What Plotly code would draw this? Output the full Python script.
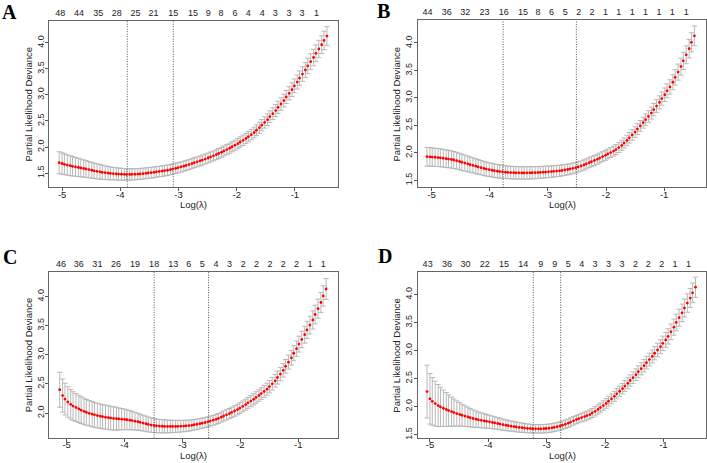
import plotly.graph_objects as go

# ---------------- data ----------------
log_lambda_A = [-5.05,-5.00,-4.96,-4.91,-4.86,-4.82,-4.77,-4.72,-4.68,-4.63,
    -4.59,-4.54,-4.49,-4.45,-4.40,-4.35,-4.31,-4.26,-4.21,-4.17,
    -4.12,-4.07,-4.03,-3.98,-3.93,-3.89,-3.84,-3.80,-3.75,-3.70,
    -3.66,-3.61,-3.56,-3.52,-3.47,-3.42,-3.38,-3.33,-3.28,-3.24,
    -3.19,-3.14,-3.10,-3.05,-3.01,-2.96,-2.91,-2.87,-2.82,-2.77,
    -2.73,-2.68,-2.63,-2.59,-2.54,-2.49,-2.45,-2.40,-2.35,-2.31,
    -2.26,-2.22,-2.17,-2.12,-2.08,-2.03,-1.98,-1.94,-1.89,-1.84,
    -1.80,-1.75,-1.70,-1.66,-1.61,-1.57,-1.52,-1.47,-1.43,-1.38,
    -1.33,-1.29,-1.24,-1.19,-1.15,-1.10,-1.05,-1.01,-0.96,-0.92,
    -0.87,-0.82,-0.78,-0.73,-0.68,-0.64,-0.59,-0.54,-0.50,-0.45]
mean_A = [1.700,1.684,1.669,1.655,1.642,1.630,1.619,1.608,1.598,1.589,
    1.580,1.567,1.555,1.544,1.534,1.525,1.516,1.508,1.501,1.495,
    1.490,1.485,1.481,1.478,1.476,1.475,1.475,1.476,1.478,1.481,
    1.485,1.490,1.496,1.502,1.509,1.516,1.523,1.531,1.539,1.547,
    1.555,1.566,1.578,1.591,1.604,1.618,1.633,1.648,1.664,1.681,
    1.700,1.716,1.733,1.751,1.770,1.790,1.810,1.831,1.853,1.876,
    1.900,1.925,1.951,1.978,2.006,2.035,2.065,2.097,2.130,2.164,
    2.200,2.238,2.279,2.323,2.370,2.420,2.472,2.526,2.582,2.640,
    2.700,2.762,2.826,2.892,2.960,3.030,3.101,3.173,3.247,3.323,
    3.400,3.478,3.557,3.637,3.718,3.799,3.881,3.963,4.046,4.130]
sd_A = [0.210,0.205,0.200,0.195,0.190,0.185,0.180,0.175,0.170,0.165,
    0.160,0.156,0.152,0.148,0.144,0.140,0.136,0.132,0.128,0.124,
    0.120,0.118,0.116,0.114,0.112,0.110,0.109,0.108,0.107,0.106,
    0.105,0.105,0.104,0.104,0.103,0.103,0.102,0.101,0.101,0.100,
    0.100,0.099,0.099,0.098,0.098,0.097,0.097,0.096,0.096,0.095,
    0.095,0.095,0.095,0.095,0.095,0.095,0.095,0.095,0.095,0.095,
    0.095,0.095,0.096,0.096,0.097,0.097,0.098,0.098,0.099,0.099,
    0.100,0.101,0.103,0.104,0.106,0.107,0.109,0.110,0.112,0.113,
    0.115,0.117,0.120,0.122,0.125,0.127,0.130,0.132,0.135,0.137,
    0.140,0.144,0.149,0.153,0.158,0.162,0.167,0.171,0.176,0.180]
nz_labels_A = ["48","44","35","28","25","21","15","15","9","8","6","4","4","3","3","3","1"]
nz_at_A = [-5.03,-4.71,-4.38,-4.06,-3.74,-3.43,-3.09,-2.75,-2.49,-2.27,-2.03,-1.80,-1.56,-1.34,-1.10,-0.88,-0.63]
lambda_lines_A = [-3.88, -3.09]

log_lambda_B = [-5.08,-5.03,-4.99,-4.94,-4.89,-4.85,-4.80,-4.75,-4.71,-4.66,
    -4.62,-4.57,-4.52,-4.48,-4.43,-4.38,-4.34,-4.29,-4.24,-4.20,
    -4.15,-4.10,-4.06,-4.01,-3.96,-3.92,-3.87,-3.83,-3.78,-3.73,
    -3.69,-3.64,-3.59,-3.55,-3.50,-3.45,-3.41,-3.36,-3.31,-3.27,
    -3.22,-3.17,-3.13,-3.08,-3.04,-2.99,-2.94,-2.90,-2.85,-2.80,
    -2.76,-2.71,-2.66,-2.62,-2.57,-2.52,-2.48,-2.43,-2.38,-2.34,
    -2.29,-2.25,-2.20,-2.15,-2.11,-2.06,-2.01,-1.97,-1.92,-1.87,
    -1.83,-1.78,-1.73,-1.69,-1.64,-1.60,-1.55,-1.50,-1.46,-1.41,
    -1.36,-1.32,-1.27,-1.22,-1.18,-1.13,-1.08,-1.04,-0.99,-0.95,
    -0.90,-0.85,-0.81,-0.76,-0.71,-0.67,-0.62,-0.57,-0.53,-0.48]
mean_B = [1.930,1.927,1.924,1.920,1.915,1.910,1.903,1.895,1.887,1.879,
    1.870,1.857,1.843,1.829,1.815,1.800,1.786,1.772,1.758,1.744,
    1.730,1.717,1.705,1.694,1.684,1.675,1.667,1.660,1.654,1.649,
    1.645,1.642,1.639,1.637,1.636,1.635,1.635,1.636,1.637,1.638,
    1.640,1.642,1.645,1.648,1.651,1.655,1.659,1.664,1.669,1.674,
    1.680,1.688,1.697,1.707,1.718,1.730,1.745,1.761,1.779,1.799,
    1.820,1.840,1.861,1.883,1.906,1.930,1.955,1.981,2.006,2.033,
    2.060,2.096,2.136,2.179,2.225,2.274,2.325,2.378,2.433,2.490,
    2.550,2.605,2.663,2.724,2.787,2.852,2.919,2.988,3.058,3.129,
    3.200,3.285,3.375,3.470,3.570,3.675,3.785,3.897,4.012,4.130]
sd_B = [0.170,0.169,0.167,0.166,0.164,0.163,0.161,0.160,0.158,0.157,
    0.155,0.153,0.150,0.148,0.145,0.143,0.140,0.138,0.135,0.133,
    0.130,0.128,0.127,0.125,0.124,0.122,0.121,0.119,0.118,0.116,
    0.115,0.115,0.114,0.114,0.113,0.113,0.112,0.112,0.111,0.111,
    0.110,0.109,0.108,0.107,0.106,0.105,0.104,0.103,0.102,0.101,
    0.100,0.099,0.098,0.097,0.096,0.095,0.094,0.093,0.092,0.091,
    0.090,0.090,0.090,0.090,0.090,0.090,0.090,0.090,0.090,0.090,
    0.090,0.091,0.092,0.093,0.094,0.095,0.096,0.097,0.098,0.099,
    0.100,0.103,0.106,0.109,0.112,0.115,0.118,0.121,0.124,0.127,
    0.130,0.135,0.141,0.146,0.152,0.157,0.163,0.168,0.174,0.180]
nz_labels_B = ["44","36","32","23","16","15","8","6","5","2","2","1","1","1","1","1","1","1"]
nz_at_B = [-5.07,-4.74,-4.42,-4.09,-3.76,-3.43,-3.17,-2.94,-2.70,-2.47,-2.24,-2.01,-1.78,-1.55,-1.32,-1.09,-0.86,-0.62]
lambda_lines_B = [-3.77, -2.51]

log_lambda_C = [-5.12,-5.07,-5.03,-4.98,-4.93,-4.89,-4.84,-4.79,-4.75,-4.70,
    -4.66,-4.61,-4.56,-4.52,-4.47,-4.42,-4.38,-4.33,-4.28,-4.24,
    -4.19,-4.14,-4.10,-4.05,-4.00,-3.96,-3.91,-3.87,-3.82,-3.77,
    -3.73,-3.68,-3.63,-3.59,-3.54,-3.49,-3.45,-3.40,-3.35,-3.31,
    -3.26,-3.21,-3.17,-3.12,-3.08,-3.03,-2.98,-2.94,-2.89,-2.84,
    -2.80,-2.75,-2.70,-2.66,-2.61,-2.56,-2.52,-2.47,-2.42,-2.38,
    -2.33,-2.29,-2.24,-2.19,-2.15,-2.10,-2.05,-2.01,-1.96,-1.91,
    -1.87,-1.82,-1.77,-1.73,-1.68,-1.64,-1.59,-1.54,-1.50,-1.45,
    -1.40,-1.36,-1.31,-1.26,-1.22,-1.17,-1.12,-1.08,-1.03,-0.99,
    -0.94,-0.89,-0.85,-0.80,-0.75,-0.71,-0.66,-0.61,-0.57,-0.52]
mean_C = [2.400,2.300,2.240,2.190,2.150,2.120,2.095,2.072,2.050,2.030,
    2.012,1.996,1.982,1.969,1.957,1.946,1.937,1.929,1.921,1.914,
    1.908,1.903,1.899,1.895,1.891,1.885,1.878,1.870,1.861,1.851,
    1.840,1.828,1.816,1.804,1.794,1.786,1.780,1.776,1.773,1.771,
    1.770,1.770,1.770,1.771,1.772,1.774,1.777,1.780,1.784,1.789,
    1.800,1.808,1.817,1.827,1.838,1.850,1.863,1.877,1.892,1.908,
    1.930,1.949,1.969,1.990,2.012,2.035,2.060,2.086,2.114,2.144,
    2.175,2.205,2.236,2.268,2.301,2.335,2.370,2.410,2.454,2.502,
    2.554,2.610,2.670,2.734,2.802,2.874,2.949,3.027,3.105,3.184,
    3.264,3.345,3.427,3.510,3.598,3.692,3.792,3.898,4.010,4.130]
sd_C = [0.300,0.285,0.272,0.262,0.253,0.246,0.240,0.235,0.230,0.225,
    0.221,0.218,0.216,0.214,0.212,0.210,0.208,0.206,0.204,0.202,
    0.200,0.195,0.189,0.183,0.176,0.170,0.164,0.158,0.152,0.146,
    0.140,0.136,0.132,0.128,0.124,0.120,0.118,0.116,0.114,0.112,
    0.110,0.108,0.106,0.104,0.102,0.100,0.098,0.096,0.094,0.092,
    0.090,0.089,0.088,0.087,0.086,0.085,0.085,0.085,0.085,0.085,
    0.085,0.086,0.087,0.088,0.089,0.090,0.091,0.092,0.093,0.094,
    0.095,0.096,0.097,0.098,0.099,0.100,0.102,0.104,0.106,0.108,
    0.110,0.112,0.114,0.116,0.118,0.120,0.124,0.128,0.132,0.136,
    0.140,0.144,0.148,0.152,0.156,0.160,0.165,0.170,0.175,0.180]
nz_labels_C = ["46","36","31","26","19","18","13","6","5","4","3","2","2","2","2","2","1","1"]
nz_at_C = [-5.10,-4.79,-4.47,-4.15,-3.82,-3.49,-3.16,-2.89,-2.66,-2.42,-2.19,-1.95,-1.72,-1.49,-1.26,-1.03,-0.80,-0.57]
lambda_lines_C = [-3.49, -2.55]

log_lambda_D = [-5.05,-5.00,-4.96,-4.91,-4.86,-4.82,-4.77,-4.72,-4.68,-4.63,
    -4.59,-4.54,-4.49,-4.45,-4.40,-4.35,-4.31,-4.26,-4.21,-4.17,
    -4.12,-4.07,-4.03,-3.98,-3.93,-3.89,-3.84,-3.80,-3.75,-3.70,
    -3.66,-3.61,-3.56,-3.52,-3.47,-3.42,-3.38,-3.33,-3.28,-3.24,
    -3.19,-3.14,-3.10,-3.05,-3.01,-2.96,-2.91,-2.87,-2.82,-2.77,
    -2.73,-2.68,-2.63,-2.59,-2.54,-2.49,-2.45,-2.40,-2.35,-2.31,
    -2.26,-2.22,-2.17,-2.12,-2.08,-2.03,-1.98,-1.94,-1.89,-1.84,
    -1.80,-1.75,-1.70,-1.66,-1.61,-1.57,-1.52,-1.47,-1.43,-1.38,
    -1.33,-1.29,-1.24,-1.19,-1.15,-1.10,-1.05,-1.01,-0.96,-0.92,
    -0.87,-0.82,-0.78,-0.73,-0.68,-0.64,-0.59,-0.54,-0.50,-0.45]
mean_D = [2.270,2.140,2.095,2.055,2.020,1.995,1.972,1.950,1.930,1.912,
    1.895,1.878,1.862,1.847,1.833,1.818,1.803,1.789,1.777,1.766,
    1.756,1.747,1.739,1.730,1.720,1.710,1.700,1.690,1.680,1.670,
    1.661,1.653,1.645,1.638,1.631,1.625,1.619,1.614,1.610,1.607,
    1.605,1.605,1.606,1.608,1.611,1.616,1.623,1.632,1.643,1.656,
    1.671,1.688,1.706,1.726,1.748,1.770,1.788,1.806,1.824,1.842,
    1.860,1.888,1.918,1.950,1.984,2.020,2.058,2.098,2.140,2.184,
    2.230,2.275,2.321,2.368,2.417,2.467,2.518,2.570,2.623,2.677,
    2.731,2.785,2.840,2.896,2.953,3.011,3.070,3.130,3.191,3.253,
    3.335,3.418,3.502,3.587,3.673,3.760,3.848,3.937,4.030,4.130]
sd_D = [0.470,0.450,0.425,0.400,0.375,0.350,0.325,0.302,0.280,0.260,
    0.242,0.225,0.210,0.196,0.184,0.173,0.163,0.154,0.146,0.139,
    0.133,0.127,0.122,0.117,0.113,0.109,0.105,0.102,0.099,0.096,
    0.093,0.091,0.089,0.087,0.085,0.083,0.081,0.079,0.077,0.076,
    0.075,0.075,0.075,0.075,0.075,0.075,0.075,0.075,0.075,0.075,
    0.075,0.075,0.075,0.075,0.075,0.075,0.076,0.077,0.078,0.079,
    0.080,0.081,0.082,0.083,0.084,0.085,0.086,0.087,0.088,0.089,
    0.090,0.092,0.094,0.096,0.098,0.100,0.102,0.104,0.106,0.108,
    0.110,0.112,0.114,0.116,0.118,0.120,0.124,0.128,0.132,0.136,
    0.140,0.144,0.148,0.152,0.156,0.160,0.165,0.170,0.175,0.180]
nz_labels_D = ["43","36","30","22","15","14","9","9","5","4","3","3","3","2","2","2","1","1"]
nz_at_D = [-5.04,-4.71,-4.39,-4.06,-3.73,-3.40,-3.10,-2.86,-2.63,-2.40,-2.17,-1.94,-1.71,-1.48,-1.26,-1.03,-0.80,-0.57]
lambda_lines_D = [-3.23, -2.76]

panel_letters = ["A", "B", "C", "D"]
x_ticks = [-5, -4, -3, -2, -1]
x_tick_text = ["-5", "-4", "-3", "-2", "-1"]
y_title = "Partial Likelihood Deviance"
x_title = "Log(\u03bb)"

# ---------------- layout (pixel geometry) ----------------
W, H = 707, 463
panels = [
    dict(x=log_lambda_A, m=mean_A, s=sd_A, nzl=nz_labels_A, nza=nz_at_A, vl=lambda_lines_A,
         box=(49.3, 338.0, 21.0, 188.0), xr=[-5.22, -0.26], yr=[1.23, 4.42],
         yt=[1.5, 2.0, 2.5, 3.0, 3.5, 4.0], letter=(9.5, 12)),
    dict(x=log_lambda_B, m=mean_B, s=sd_B, nzl=nz_labels_B, nza=nz_at_B, vl=lambda_lines_B,
         box=(417.7, 706.0, 20.0, 188.3), xr=[-5.24, -0.28], yr=[1.37, 4.42],
         yt=[1.5, 2.0, 2.5, 3.0, 3.5, 4.0], letter=(383.5, 11.5)),
    dict(x=log_lambda_C, m=mean_C, s=sd_C, nzl=nz_labels_C, nza=nz_at_C, vl=lambda_lines_C,
         box=(49.3, 337.7, 272.7, 440.0), xr=[-5.30, -0.32], yr=[1.57, 4.43],
         yt=[2.0, 2.5, 3.0, 3.5, 4.0], letter=(9.5, 258)),
    dict(x=log_lambda_D, m=mean_D, s=sd_D, nzl=nz_labels_D, nza=nz_at_D, vl=lambda_lines_D,
         box=(417.7, 706.0, 272.7, 440.0), xr=[-5.21, -0.27], yr=[1.44, 4.41],
         yt=[1.5, 2.0, 2.5, 3.0, 3.5, 4.0], letter=(385.0, 257.5)),
]

FONT = "Liberation Sans, Arial, sans-serif"
TXT = "#222"
fig = go.Figure()
layout = dict(width=W, height=H, margin=dict(l=0, r=0, t=0, b=0),
              paper_bgcolor="white", plot_bgcolor="white", showlegend=False,
              font=dict(family=FONT, size=9, color=TXT))
shapes, annotations = [], []

for k, p in enumerate(panels):
    n = k + 1
    xa = "x" if n == 1 else f"x{n}"
    ya = "y" if n == 1 else f"y{n}"
    top = n + 4
    L, R, T, B = p["box"]
    xdom = [L / W, min(R / W, 1.0)]
    ydom = [1 - B / H, 1 - T / H]

    fig.add_trace(go.Scatter(
        x=p["x"], y=p["m"], mode="markers", xaxis=xa, yaxis=ya,
        marker=dict(color="red", size=2.8, line=dict(width=0)),
        error_y=dict(type="data", array=p["s"], color="#b8b8b8", thickness=1, width=2.6),
        hoverinfo="skip"))
    fig.add_trace(go.Scatter(x=[p["xr"][0]], y=[p["yr"][0]], mode="markers",
                             xaxis=f"x{top}", yaxis=ya, marker=dict(opacity=0),
                             hoverinfo="skip"))

    axkey = "xaxis" if n == 1 else f"xaxis{n}"
    aykey = "yaxis" if n == 1 else f"yaxis{n}"
    layout[axkey] = dict(domain=xdom, anchor=ya, range=p["xr"], tickmode="array",
                         tickvals=x_ticks, ticktext=x_tick_text, ticks="outside",
                         ticklen=3, tickcolor="#555", showgrid=False, zeroline=False,
                         showline=True, linecolor="#666", linewidth=1, mirror=True,
                         tickfont=dict(size=9.5, color=TXT), ticklabelstandoff=-5)
    layout[aykey] = dict(domain=ydom, anchor=xa, range=p["yr"], tickmode="array",
                         tickvals=p["yt"], ticktext=[f"{v:.1f}" for v in p["yt"]],
                         ticks="outside", ticklen=3, tickcolor="#555", tickangle=-90,
                         showgrid=False, zeroline=False, showline=True, linecolor="#666",
                         linewidth=1, mirror=True, tickfont=dict(size=9, color=TXT),
                         ticklabelstandoff=-2)
    layout[f"xaxis{top}"] = dict(domain=xdom, anchor=ya, overlaying=xa, side="top",
                                 range=p["xr"], tickmode="array", tickvals=p["nza"],
                                 ticktext=p["nzl"], ticks="", tickangle=0,
                                 showgrid=False, zeroline=False, showline=False,
                                 tickfont=dict(size=9, color=TXT),
                                 ticklabelstandoff=2)

    for v in p["vl"]:
        shapes.append(dict(type="line", xref=xa, yref=f"{ya} domain", x0=v, x1=v,
                           y0=0, y1=1, line=dict(color="#555", width=1, dash="1px,1.5px")))

    annotations.append(dict(text=y_title, xref="paper", yref="paper",
                            x=(L - 20.8) / W, y=1 - (T + B) / 2 / H, textangle=-90,
                            showarrow=False, xanchor="center", yanchor="middle",
                            font=dict(size=9.5, family=FONT, color=TXT)))
    annotations.append(dict(text=x_title, xref="paper", yref="paper",
                            x=(L + R) / 2 / W if n in (1, 3) else (L + 0.5 * (338.0 - 49.3)) / W,
                            y=1 - (B + 17.2) / H, showarrow=False,
                            xanchor="center", yanchor="middle",
                            font=dict(size=9.5, family=FONT, color=TXT)))
    lx, ly = p["letter"]
    annotations.append(dict(text=f"<b>{panel_letters[k]}</b>", xref="paper", yref="paper",
                            x=lx / W, y=1 - ly / H, showarrow=False,
                            xanchor="center", yanchor="middle",
                            font=dict(size=20, family="Liberation Serif, Times New Roman, serif",
                                      color="black")))

layout["shapes"] = shapes
layout["annotations"] = annotations
fig.update_layout(**layout)
fig.write_html("out.html")
